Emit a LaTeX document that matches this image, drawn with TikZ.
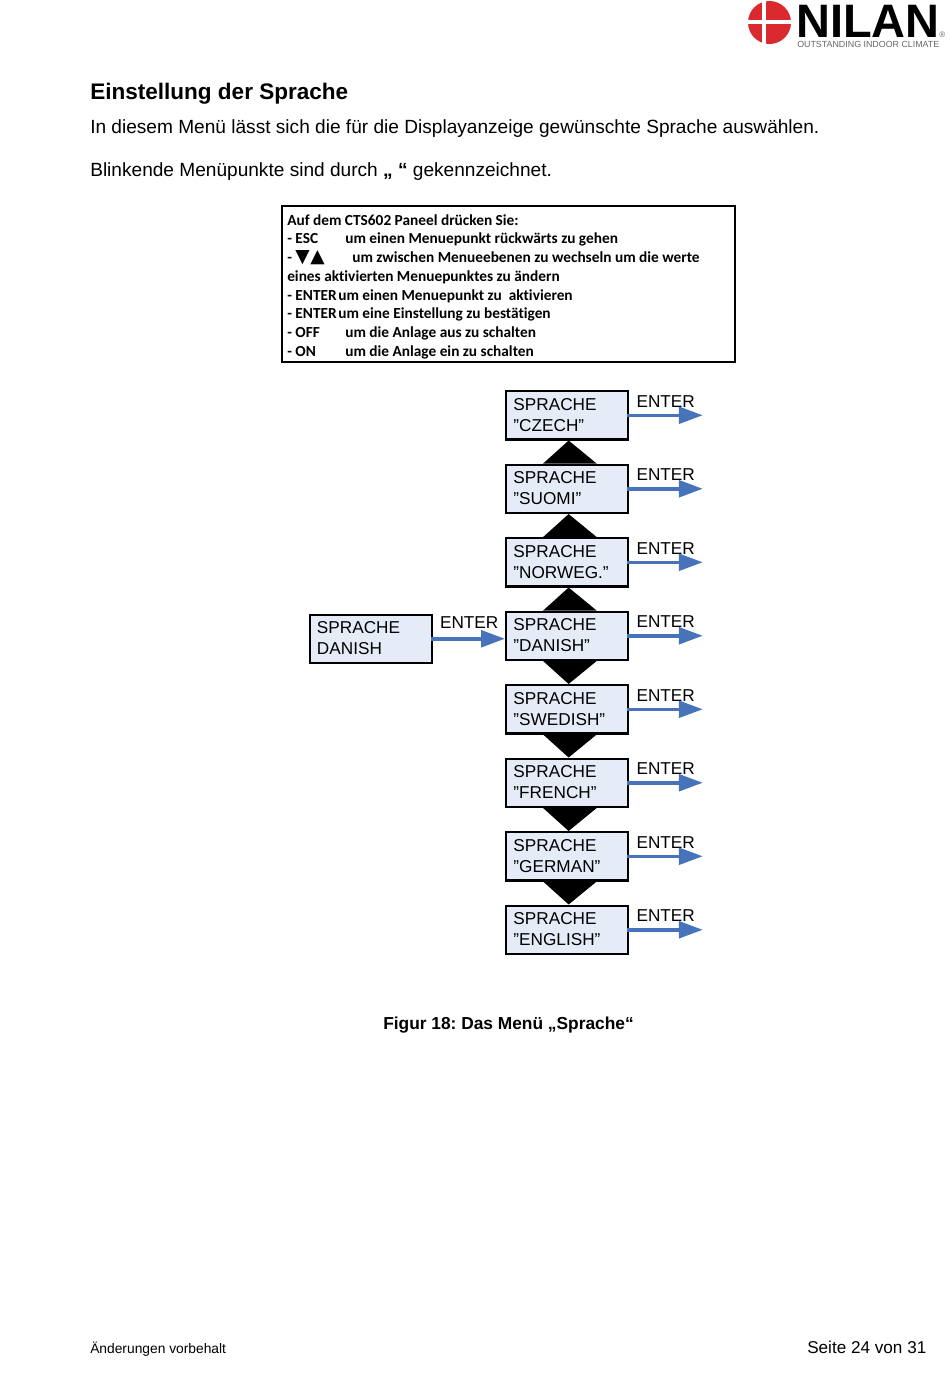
\documentclass[tikz,border=0pt]{standalone}
\usepackage{fontspec}
\setmainfont{Liberation Sans}
\newfontfamily\panelfont[Ligatures=NoCommon]{Carlito}
\newfontfamily\symfont{DejaVu Sans}
\usetikzlibrary{arrows.meta,calc}
\definecolor{boxfill}{HTML}{E6ECF7}
\definecolor{flowblue}{HTML}{4673BA}
\definecolor{nilanred}{HTML}{DB2A2F}
\definecolor{nilangray}{HTML}{666666}
\newcommand{\fsz}[2]{\fontsize{#1}{#2}\selectfont}
\frenchspacing
\tikzset{
  x=0.75pt,y=-0.75pt,
  menubox/.style={draw=black,line width=1.7pt,fill=boxfill,minimum width=91.5pt,minimum height=36.2pt,text width=80.5pt,inner xsep=5.5pt,inner ysep=0pt,align=left,text depth=16.8pt,font=\fsz{12.9}{15.8},anchor=north west},
  entertxt/.style={font=\fsz{12.9}{15},inner sep=0pt,anchor=base west},
  flow/.style={draw=flowblue,line width=2.6pt,shorten <=-1.5pt,-{Triangle[length=18pt,width=12.5pt,fill=flowblue]}},
  pointer/.style={fill=black,draw=none},
  plain/.style={inner sep=0pt,anchor=base west},
  panelline/.style={inner sep=0pt,anchor=base west,font=\panelfont\bfseries\fsz{11.5}{13}},
}
\begin{document}
\begin{tikzpicture}
\useasboundingbox (0,0) rectangle (950,1379);
% logo
\fill[nilanred] (769.5,22.5) circle[radius=21.5];
\fill[white] (762,0) rectangle (766,46);
\fill[white] (747,20) rectangle (792,24);
\node[plain,font=\bfseries\fsz{35.2}{36}] (brand) at (796,37) {NILAN};
\node[plain,font=\fsz{6}{6},text=nilangray] (reg) at (939,37) {®};
\node[plain,font=\fsz{6.65}{8},text=nilangray] (slogan) at (797,47) {OUTSTANDING INDOOR CLIMATE};
% text
\node[plain,font=\bfseries\fsz{16.9}{20}] (title) at (90,99) {Einstellung der Sprache};
\node[plain,font=\fsz{14.32}{17}] (intro) at (90,133) {In diesem Menü lässt sich die für die Displayanzeige gewünschte Sprache auswählen.};
\node[plain,font=\fsz{14.32}{17}] (blink) at (90,176) {Blinkende Menüpunkte sind durch \textbf{„ “} gekennzeichnet.};
% panel
\node[draw=black,line width=1.4pt,minimum width=340pt,minimum height=117pt,inner sep=0pt,anchor=north west] (panel) at (281,205) {};
\node[panelline] (p1) at (287,225) {Auf dem CTS602 Paneel drücken Sie:};
\node[panelline] (p2a) at (287,243) {- ESC};
\node[panelline] (p2b) at (345,243) {um einen Menuepunkt rückwärts zu gehen};
\node[panelline] (p3a) at (287,262) {- {\symfont\mdseries\fsz{14}{13}▼\kern0.5pt▲}};
\node[panelline] (p3b) at (352,262) {um zwischen Menueebenen zu wechseln um die werte};
\node[panelline] (p4) at (287,281) {eines aktivierten Menuepunktes zu ändern};
\node[panelline] (p5a) at (287,300) {- ENTER};
\node[panelline] (p5b) at (338,300) {um einen Menuepunkt zu\ \ aktivieren};
\node[panelline] (p6a) at (287,318) {- ENTER};
\node[panelline] (p6b) at (338,318) {um eine Einstellung zu bestätigen};
\node[panelline] (p7a) at (287,337) {- OFF};
\node[panelline] (p7b) at (345,337) {um die Anlage aus zu schalten};
\node[panelline] (p8a) at (287,356) {- ON};
\node[panelline] (p8b) at (345,356) {um die Anlage ein zu schalten};
% boxes
\node[menubox] (czech) at (505,390) {SPRACHE\\”CZECH”};
\node[menubox] (suomi) at (505,463.5) {SPRACHE\\”SUOMI”};
\node[menubox] (norweg) at (505,537) {SPRACHE\\”NORWEG.”};
\node[menubox] (danish) at (505,610.5) {SPRACHE\\”DANISH”};
\node[menubox] (swedish) at (505,684) {SPRACHE\\”SWEDISH”};
\node[menubox] (french) at (505,757.5) {SPRACHE\\”FRENCH”};
\node[menubox] (german) at (505,831) {SPRACHE\\”GERMAN”};
\node[menubox] (english) at (505,904.5) {SPRACHE\\”ENGLISH”};
\node[menubox] (start) at (308.5,613.5) {SPRACHE\\DANISH};
% pointers up
\foreach \a/\b in {czech/suomi,suomi/norweg,norweg/danish}{
  \fill[pointer] ($(\a.south)+(1.5,0)$) -- ($(\b.north)+(29.5,0)$) -- ($(\b.north)+(-24,0)$) -- cycle;
}
% pointers down
\foreach \a/\b in {danish/swedish,swedish/french,french/german,german/english}{
  \fill[pointer] ($(\b.north)+(1.5,0)$) -- ($(\a.south)+(29.5,0)$) -- ($(\a.south)+(-24,0)$) -- cycle;
}
% enter labels and arrows
\foreach \n in {czech,suomi,norweg,danish,swedish,french,german,english}{
  \node[entertxt] (lab\n) at ($(\n.east)+(7,-8)$) {ENTER};
  \coordinate (end\n) at ($(\n.east)+(73.5,0)$);
  \draw[flow] (\n.east) -- (end\n);
}
\node[entertxt] (labstart) at ($(start.east)+(7,-10.5)$) {ENTER};
\draw[flow] (start.east) -- (start.east -| danish.west);
% captions
\node[plain,font=\bfseries\fsz{13}{16}] (caption) at (383,1029) {Figur 18: Das Menü „Sprache“};
\node[plain,font=\fsz{10.35}{12}] (foot) at (90,1353) {Änderungen vorbehalt};
\node[plain,font=\fsz{12.85}{15}] (page) at (807,1353) {Seite 24 von 31};
\end{tikzpicture}
\end{document}
